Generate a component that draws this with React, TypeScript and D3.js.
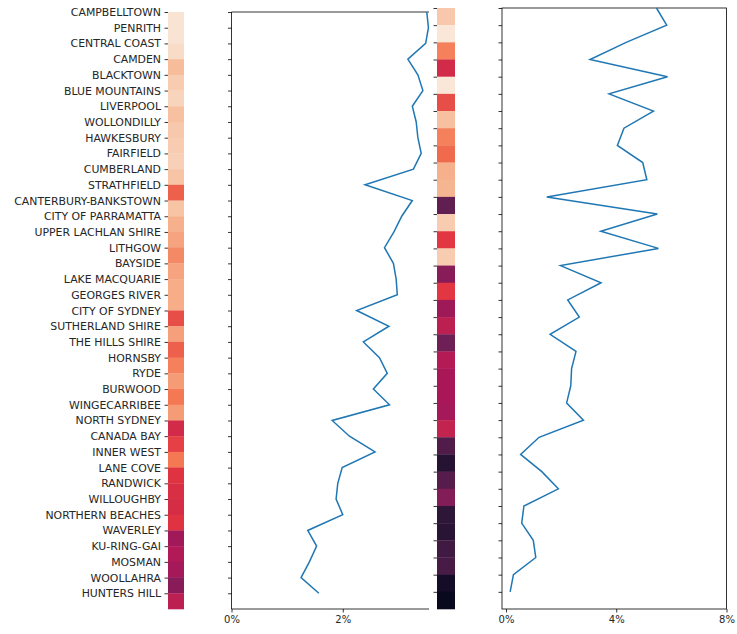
import React, { useEffect, useRef } from 'react';
import * as d3 from 'd3';

const W = 737, H = 634;

// council names, top to bottom
const councils = [
  'CAMPBELLTOWN', 'PENRITH', 'CENTRAL COAST', 'CAMDEN', 'BLACKTOWN', 'BLUE MOUNTAINS',
  'LIVERPOOL', 'WOLLONDILLY', 'HAWKESBURY', 'FAIRFIELD', 'CUMBERLAND', 'STRATHFIELD',
  'CANTERBURY-BANKSTOWN', 'CITY OF PARRAMATTA', 'UPPER LACHLAN SHIRE', 'LITHGOW', 'BAYSIDE',
  'LAKE MACQUARIE', 'GEORGES RIVER', 'CITY OF SYDNEY', 'SUTHERLAND SHIRE', 'THE HILLS SHIRE',
  'HORNSBY', 'RYDE', 'BURWOOD', 'WINGECARRIBEE', 'NORTH SYDNEY', 'CANADA BAY', 'INNER WEST',
  'LANE COVE', 'RANDWICK', 'WILLOUGHBY', 'NORTHERN BEACHES', 'WAVERLEY', 'KU-RING-GAI',
  'MOSMAN', 'WOOLLAHRA', 'HUNTERS HILL'
];

// left heat column (normalised 0..1 on the colour map)
const heatLeft = [
  0.98, 0.98, 0.96, 0.88, 0.92, 0.94, 0.89, 0.91, 0.92, 0.93, 0.90, 0.67, 0.90, 0.85,
  0.82, 0.76, 0.82, 0.84, 0.84, 0.63, 0.81, 0.67, 0.74, 0.80, 0.72, 0.80, 0.53, 0.60,
  0.72, 0.57, 0.55, 0.54, 0.57, 0.40, 0.44, 0.41, 0.34, 0.47
];

// left line, percent
const shareLeft = [
  3.51, 3.54, 3.49, 3.17, 3.35, 3.44, 3.25, 3.32, 3.35, 3.41, 3.27, 2.40, 3.25, 3.06,
  2.92, 2.75, 2.91, 2.96, 2.98, 2.25, 2.83, 2.37, 2.66, 2.80, 2.55, 2.84, 1.81, 2.12,
  2.58, 1.99, 1.91, 1.88, 2.00, 1.37, 1.53, 1.40, 1.25, 1.57
];

// middle heat column
const heatRight = [
  0.91, 0.99, 0.74, 0.53, 0.99, 0.63, 0.89, 0.74, 0.69, 0.85, 0.86, 0.25, 0.92, 0.58,
  0.92, 0.34, 0.58, 0.39, 0.47, 0.28, 0.445, 0.42, 0.42, 0.41, 0.49, 0.21, 0.10, 0.22,
  0.33, 0.12, 0.11, 0.17, 0.19, 0.05, 0.02
];

// right line, percent
const shareRight = [
  5.46, 5.83, 4.36, 3.05, 5.86, 3.74, 5.35, 4.28, 4.04, 4.96, 5.11, 1.48, 5.49, 3.44,
  5.53, 1.98, 3.45, 2.24, 2.66, 1.60, 2.54, 2.38, 2.35, 2.20, 2.81, 1.20, 0.53, 1.30,
  1.90, 0.65, 0.57, 0.99, 1.08, 0.27, 0.15
];

const leftTicks = [0, 2];
const rightTicks = [0, 4, 8];

const rocket = ['#03051A', '#35193E', '#701F57', '#AD1759', '#E13342', '#F37651', '#F6B48F', '#FAEBDD'];

const App = () => {
  const ref = useRef<SVGSVGElement>(null);

  useEffect(() => {
    const svg = d3.select(ref.current);
    svg.selectAll('*').remove();
    svg.style('font-family', 'DejaVu Sans').style('font-size', '10px');

    const color = d3.scaleSequential(d3.piecewise(d3.interpolateRgb, rocket)).domain([0, 1]);

    const yL = d3.scaleLinear().domain([0, councils.length]).range([12, 609]);
    const yR = d3.scaleLinear().domain([0, heatRight.length]).range([8, 609]);
    const xL = d3.scaleLinear().domain([0, 3.55]).range([231.5, 429]);
    const xR = d3.scaleLinear().domain([-0.145, 8]).range([502, 726.5]);

    const idxL = d3.range(councils.length);
    const idxR = d3.range(heatRight.length);

    const styleAxis = (g, size = 10) => {
      g.selectAll('line').attr('stroke', '#000').attr('stroke-width', 0.8);
      g.selectAll('text').attr('fill', '#262626').style('font-size', size + 'px').style('font-family', 'DejaVu Sans');
    };

    // left heat column with the council labels
    svg.append('g').selectAll('rect').data(heatLeft).enter().append('rect')
      .attr('x', 168).attr('width', 16)
      .attr('y', (d, i) => yL(i)).attr('height', (d, i) => yL(i + 1) - yL(i) + 0.3)
      .attr('fill', d => color(d));

    svg.append('g').attr('transform', 'translate(168,0)')
      .call(d3.axisLeft(yL).tickValues(idxL).tickFormat(i => councils[i]).tickSize(3.5).tickPadding(3.5))
      .call(g => g.select('.domain').remove())
      .call(g => styleAxis(g, 10.9));

    // left line panel
    const gl = svg.append('g');
    gl.append('g').attr('transform', 'translate(231.5,0)')
      .call(d3.axisLeft(yL).tickValues(idxL).tickFormat(() => '').tickSize(3.5))
      .call(g => g.select('.domain').remove())
      .call(styleAxis);
    gl.append('g').attr('transform', 'translate(0,609)')
      .call(d3.axisBottom(xL).tickValues(leftTicks).tickFormat(d => d + '%').tickSize(3.5).tickPadding(3.5))
      .call(g => g.select('.domain').remove())
      .call(styleAxis);
    gl.append('path')
      .attr('d', `M231.5,12V609H429M231.5,12H429`)
      .attr('fill', 'none').attr('stroke', '#000').attr('stroke-width', 0.8);
    gl.append('path').datum(shareLeft)
      .attr('fill', 'none').attr('stroke', '#1f77b4').attr('stroke-width', 1.5)
      .attr('d', d3.line<number>().x(d => xL(d)).y((d, i) => yL(i)));

    // middle heat column
    svg.append('g').selectAll('rect').data(heatRight).enter().append('rect')
      .attr('x', 437).attr('width', 18)
      .attr('y', (d, i) => yR(i)).attr('height', (d, i) => yR(i + 1) - yR(i) + 0.3)
      .attr('fill', d => color(d));
    svg.append('g').attr('transform', 'translate(437,0)')
      .call(d3.axisLeft(yR).tickValues(idxR).tickFormat(() => '').tickSize(3.5))
      .call(g => g.select('.domain').remove())
      .call(styleAxis);

    // right line panel
    const gr = svg.append('g');
    gr.append('g').attr('transform', 'translate(502,0)')
      .call(d3.axisLeft(yR).tickValues(idxR).tickFormat(() => '').tickSize(3.5))
      .call(g => g.select('.domain').remove())
      .call(styleAxis);
    gr.append('g').attr('transform', 'translate(0,609)')
      .call(d3.axisBottom(xR).tickValues(rightTicks).tickFormat(d => d + '%').tickSize(3.5).tickPadding(3.5))
      .call(g => g.select('.domain').remove())
      .call(styleAxis);
    gr.append('rect')
      .attr('x', 502).attr('y', 8).attr('width', 224.5).attr('height', 601)
      .attr('fill', 'none').attr('stroke', '#000').attr('stroke-width', 0.8);
    gr.append('path').datum(shareRight)
      .attr('fill', 'none').attr('stroke', '#1f77b4').attr('stroke-width', 1.5)
      .attr('d', d3.line<number>().x(d => xR(d)).y((d, i) => yR(i)));
  }, []);

  return (
    <svg ref={ref} width={W} height={H}
      style={{ position: 'absolute', left: 0, top: 0, background: '#fff' }} />
  );
};

export default App;
